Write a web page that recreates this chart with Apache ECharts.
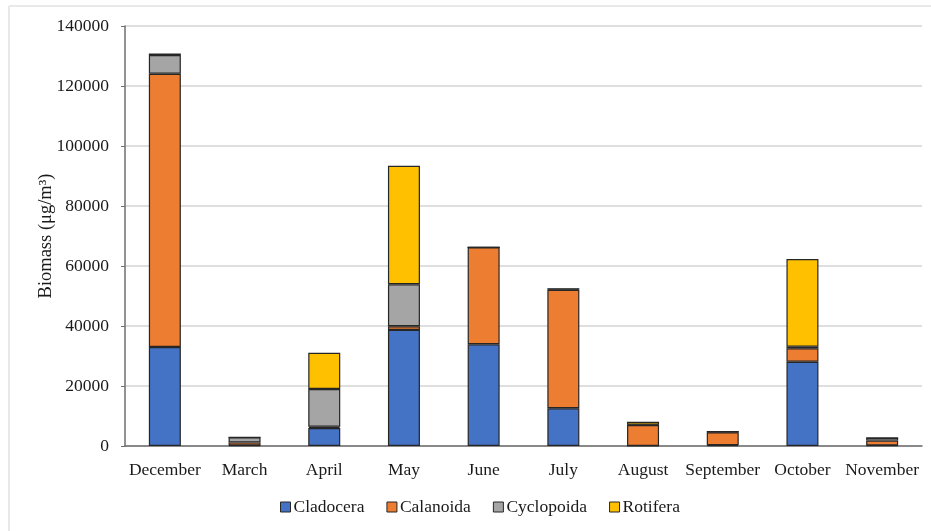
<!DOCTYPE html>
<html>
<head>
<meta charset="utf-8">
<script src="https://cdn.jsdelivr.net/npm/echarts@6/dist/echarts.min.js"></script>
<style>
  html, body { margin: 0; padding: 0; background: #fff; }
  #chart { width: 931px; height: 531px; }
</style>
</head>
<body>
<div id="chart"></div>
<script>
// Monthly zooplankton biomass (µg/m³) by group
const months = ['December', 'March', 'April', 'May', 'June', 'July', 'August', 'September', 'October', 'November'];
const cladocera  = [33000,  200,  6000, 38700, 33900, 12600,    0,  300, 28100,  200];
const calanoida  = [91100, 1000,   400,  1200, 32300, 39500, 7000, 4300,  4500, 1600];
const cyclopoida = [ 6200, 1700, 12600, 14000,     0,   300,  100,  200,   500,  900];
const rotifera   = [  500,    0, 12100, 39500,     0,     0, 1000,    0, 29200,    0];
const yTicks = [0, 20000, 40000, 60000, 80000, 100000, 120000, 140000];

const groups = [
  { name: 'Cladocera',  data: cladocera,  color: '#4472C4' },
  { name: 'Calanoida',  data: calanoida,  color: '#ED7D31' },
  { name: 'Cyclopoida', data: cyclopoida, color: '#A5A5A5' },
  { name: 'Rotifera',   data: rotifera,   color: '#FFC000' }
];

const font = '"Liberation Serif", "DejaVu Serif", serif';
const textColor = '#1a1a1a';
const chart = echarts.init(document.getElementById('chart'), null, { renderer: 'canvas' });

chart.setOption({
  animation: false,
  backgroundColor: '#fff',
  textStyle: { fontFamily: font },
  graphic: [
    { type: 'line', shape: { x1: 9, y1: 6, x2: 931, y2: 6 }, style: { stroke: '#e2e2e2', lineWidth: 1.5 } },
    { type: 'line', shape: { x1: 9, y1: 6, x2: 9, y2: 531 }, style: { stroke: '#e2e2e2', lineWidth: 1.5 } }
  ],
  grid: { left: 125, right: 9, top: 26, bottom: 85 },
  legend: {
    left: 275,
    top: 493,
    itemWidth: 10,
    itemHeight: 10,
    itemGap: 22,
    icon: 'rect',
    itemStyle: { borderColor: '#262626', borderWidth: 1 },
    textStyle: { fontFamily: font, fontSize: 17.5, color: textColor, padding: [0, 0, 0, -2] },
    data: groups.map(g => g.name)
  },
  xAxis: {
    type: 'category',
    data: months,
    axisLine: { lineStyle: { color: '#6e6e6e', width: 1.5 } },
    axisTick: { show: false },
    axisLabel: { fontFamily: font, fontSize: 17.5, color: textColor, margin: 15, interval: 0 }
  },
  yAxis: {
    type: 'value',
    min: yTicks[0],
    max: yTicks[yTicks.length - 1],
    interval: yTicks[1] - yTicks[0],
    name: 'Biomass (μg/m³)',
    nameLocation: 'middle',
    nameGap: 69,
    nameMoveOverlap: false,
    nameTextStyle: { fontFamily: font, fontSize: 18.5, color: textColor },
    axisLine: { show: true, lineStyle: { color: '#6e6e6e', width: 1.5 } },
    axisTick: { show: true, length: 4, lineStyle: { color: '#6e6e6e' } },
    axisLabel: { fontFamily: font, fontSize: 17.5, color: textColor, margin: 16, formatter: v => String(v) },
    splitLine: { lineStyle: { color: '#d4d4d4', width: 1.5 } }
  },
  series: groups.map(g => ({
    name: g.name,
    type: 'bar',
    stack: 'total',
    barWidth: 32,
    data: g.data,
    itemStyle: { color: g.color, borderColor: '#262626', borderWidth: 1.2 }
  }))
});
</script>
</body>
</html>
